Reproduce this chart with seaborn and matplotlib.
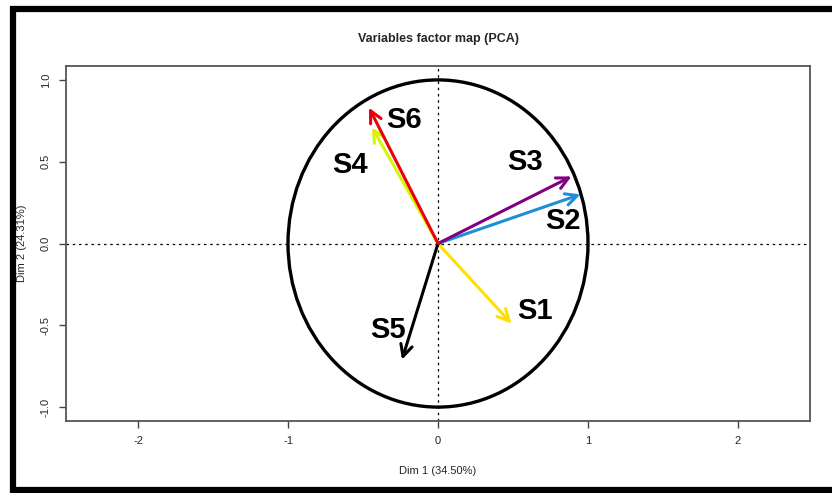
import numpy as np
import pandas as pd
import seaborn as sns
import matplotlib.pyplot as plt
from matplotlib.patches import Circle

variables = ['S1', 'S2', 'S3', 'S4', 'S5', 'S6']
dim1 = [0.49, 0.95, 0.89, -0.44, -0.24, -0.46]
dim2 = [-0.49, 0.30, 0.41, 0.71, -0.71, 0.83]
colours = ['#ffe000', '#1e8fd6', '#800080', '#d8f500', '#000000', '#e8000b']

# label offsets from the arrow tip, in pixels
label_offsets = {'S1': (23, 13), 'S2': (-18, -27), 'S3': (-47, 14),
                 'S4': (-22, -38), 'S5': (-14, 30), 'S6': (35, -12)}

df = pd.DataFrame({'var': variables, 'Dim1': dim1, 'Dim2': dim2, 'col': colours})

sns.set_theme(style='white')
plt.rcParams['font.family'] = ['Liberation Sans', 'DejaVu Sans']

fig = plt.figure(figsize=(8.32, 4.93), dpi=100)
ax = fig.add_axes([66 / 832, 72 / 493, 744 / 832, 355 / 493])

ax.axhline(0, color='black', lw=0.9, ls=(0, (2, 3)))
ax.axvline(0, color='black', lw=0.9, ls=(0, (2, 3)))
ax.add_patch(Circle((0, 0), 1, fill=False, color='black', lw=2.4))

for _, r in df.iterrows():
    ax.annotate('', xy=(r.Dim1, r.Dim2), xytext=(0, 0),
                arrowprops=dict(arrowstyle='->,head_length=0.7,head_width=0.35',
                                color=r.col, lw=2.2, shrinkA=0, shrinkB=0))
    dx, dy = label_offsets[r['var']]
    ax.annotate(r['var'], xy=(r.Dim1, r.Dim2), xytext=(dx, dy),
                textcoords='offset pixels', ha='center', va='center',
                fontsize=21, fontweight='bold', color='black')

ax.set_xlim(-2.48, 2.48)
ax.set_ylim(-1.085, 1.085)
ax.set_xticks([-2, -1, 0, 1, 2])
ax.set_yticks([-1.0, -0.5, 0.0, 0.5, 1.0])
ax.set_xticklabels(['-2', '-1', '0', '1', '2'])
ax.set_yticklabels(['-1.0', '-0.5', '0.0', '0.5', '1.0'], rotation=90, va='center')
ax.tick_params(axis='both', which='both', direction='out', length=5, width=1,
               color='#444444', labelsize=8, pad=6, left=True, bottom=True)
for s in ax.spines.values():
    s.set_color('#555555')
    s.set_linewidth(1.3)

ax.set_title('Variables factor map (PCA)', fontsize=9, fontweight='bold', pad=17)
ax.set_xlabel('Dim 1 (34.50%)', fontsize=8, labelpad=14)
ax.set_ylabel('Dim 2 (24.31%)', fontsize=8, labelpad=10)

# thick black frame around the picture (open on the right)
fig.add_artist(plt.Line2D([13 / 832, 13 / 832], [0, 1 - 6 / 493], transform=fig.transFigure,
                          color='black', lw=4.5, solid_capstyle='butt'))
fig.add_artist(plt.Line2D([10 / 832, 1], [1 - 9 / 493, 1 - 9 / 493], transform=fig.transFigure,
                          color='black', lw=4.5, solid_capstyle='butt'))
fig.add_artist(plt.Line2D([10 / 832, 1], [3 / 493, 3 / 493], transform=fig.transFigure,
                          color='black', lw=4.5, solid_capstyle='butt'))

fig.savefig('out.png', dpi=100)
